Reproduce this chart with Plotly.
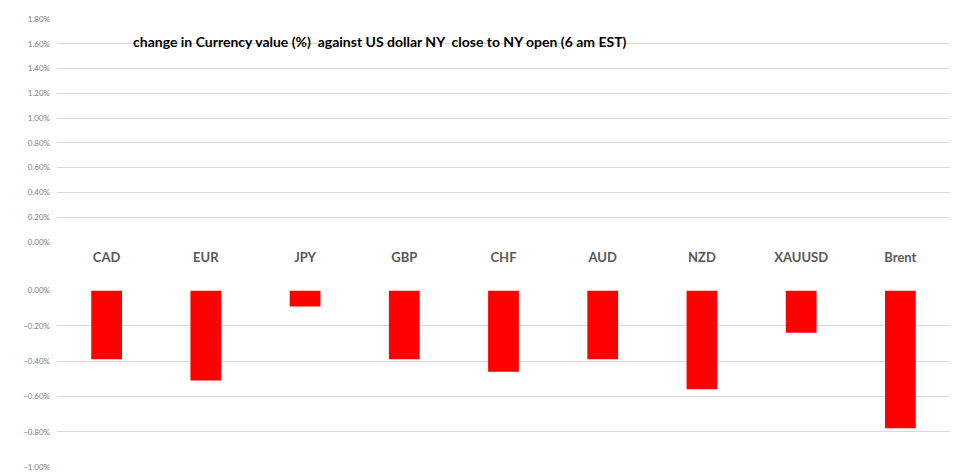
import plotly.graph_objects as go
from plotly.subplots import make_subplots

categories = ["CAD", "EUR", "JPY", "GBP", "CHF", "AUD", "NZD", "XAUUSD", "Brent"]
change_pct = [-0.39, -0.51, -0.09, -0.39, -0.46, -0.39, -0.56, -0.24, -0.78]
title_text = "change in Currency value (%)  against US dollar NY  close to NY open (6 am EST)"

values = [v / 100 for v in change_pct]

fig = make_subplots(rows=2, cols=1, shared_xaxes=False, vertical_spacing=0.0)

# top panel: positive scale (no positive values) — carries the category labels
fig.add_trace(go.Bar(x=categories, y=[0] * len(categories), marker_color="rgba(0,0,0,0)",
                     marker_line_width=0, hoverinfo="skip", showlegend=False), row=1, col=1)
fig.add_trace(go.Bar(x=categories, y=values, marker_color="#FF0000", width=0.31,
                     marker_line_width=0, showlegend=False), row=2, col=1)

grid = "#d9d9d9"
tickfont = dict(family="Lato", size=8, color="#808080")

fig.update_layout(
    width=963, height=475,
    margin=dict(l=57, r=13, t=19, b=8, autoexpand=False),
    paper_bgcolor="white", plot_bgcolor="white",
    bargap=0.69,
    xaxis=dict(domain=[0, 1], type="category", categoryorder="array", categoryarray=categories,
               range=[-0.5, 8.5], showline=False, showgrid=False, ticks="", automargin=False,
               tickfont=dict(family="Lato", size=13, color="#595959", weight="bold"),
               ticklabelstandoff=6, anchor="y"),
    yaxis=dict(domain=[0.5022, 1.0], range=[0, 0.018], dtick=0.002, tickformat=".2%",
               showgrid=True, gridcolor=grid, gridwidth=1, zeroline=False, showline=False,
               automargin=False, tickfont=tickfont, ticks="", ticklabelstandoff=6),
    xaxis2=dict(domain=[0, 1], type="category", categoryorder="array", categoryarray=categories,
                range=[-0.5, 8.5], showline=False, showgrid=False, showticklabels=False, ticks="",
                automargin=False, anchor="y2"),
    yaxis2=dict(domain=[0.0, 0.394], range=[-0.01, 0], dtick=0.002, tickformat=".2%",
                showgrid=True, gridcolor=grid, gridwidth=1, zeroline=False, showline=False,
                automargin=False, tickfont=tickfont, ticks="", ticklabelstandoff=6),
    annotations=[dict(text="<b>" + title_text + "</b>", xref="paper", yref="paper",
                      x=0.362, y=0.95, xanchor="center", yanchor="middle", showarrow=False,
                      font=dict(family="Lato", size=14, color="#000000"))],
)

fig.write_html("out.html", config={"displayModeBar": False},
               post_script="document.body.style.margin='0';")
